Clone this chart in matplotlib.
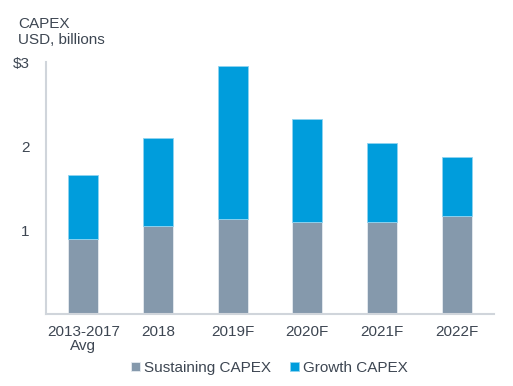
import numpy as np
import matplotlib.pyplot as plt

plt.rcParams['font.family'] = ['Liberation Sans', 'DejaVu Sans']

categorias = ['2013-2017\nAvg', '2018', '2019F', '2020F', '2021F', '2022F']
sustaining = [0.89, 1.05, 1.13, 1.10, 1.10, 1.17]
growth = [0.76, 1.05, 1.82, 1.22, 0.94, 0.70]

gris = '#8599ac'
azul = '#009ddc'
texto = '#3d4652'
eje = '#d0d5db'

fig = plt.figure(figsize=(5.13, 3.86), dpi=100)
ax = fig.add_axes([0.0897, 0.1865, 0.8733, 0.6525])

x = np.arange(len(categorias))
ax.bar(x, sustaining, width=0.4, color=gris, edgecolor='#e6ebf0', linewidth=0.6,
       label='Sustaining CAPEX')
ax.bar(x, growth, width=0.4, bottom=sustaining, color=azul, edgecolor='#8fd3f0',
       linewidth=0.6, label='Growth CAPEX')

ax.set_xlim(-0.5, len(categorias) - 0.5)
ax.set_ylim(0, 3)
ax.set_yticks([1, 2, 3])
ax.set_yticklabels(['1', '2', '$3'])
ax.set_xticks(x)
ax.set_xticklabels(categorias, linespacing=1.0)
ax.tick_params(axis='both', length=0, labelsize=11, labelcolor=texto)
ax.tick_params(axis='y', pad=12)
ax.tick_params(axis='x', pad=8)

for lado in ['top', 'right']:
    ax.spines[lado].set_visible(False)
for lado in ['left', 'bottom']:
    ax.spines[lado].set_color(eje)
    ax.spines[lado].set_linewidth(1.5)

fig.text(0.035, 0.957, 'CAPEX\nUSD, billions', fontsize=11, color=texto,
         va='top', ha='left', linespacing=1.25)

fig.legend(loc='center', bbox_to_anchor=(0.525, 0.047), ncol=2, frameon=False,
           fontsize=11, labelcolor=texto, handlelength=0.6, handleheight=0.6,
           handletextpad=0.3, columnspacing=1.2, borderpad=0)

fig.savefig('out.png', dpi=100)
